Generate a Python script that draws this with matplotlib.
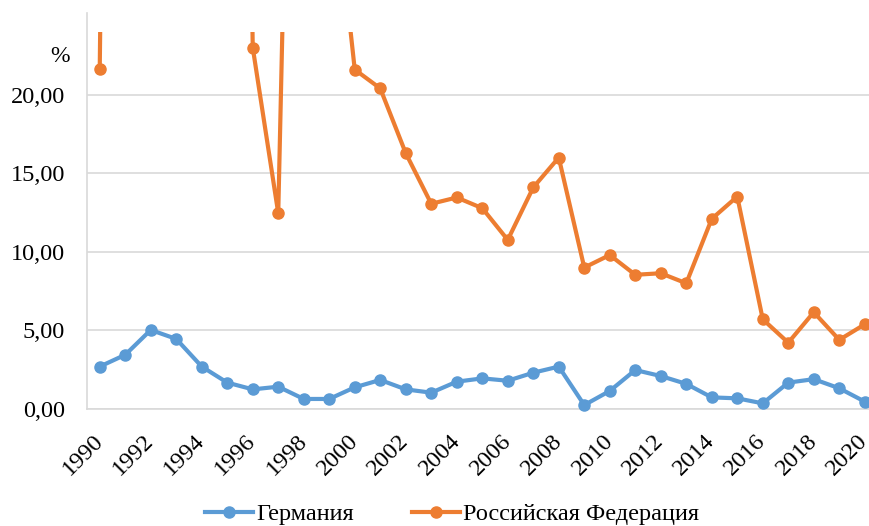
import numpy as np
import matplotlib
matplotlib.use("Agg")
import matplotlib.pyplot as plt
from matplotlib.patches import Rectangle

years = list(range(1990, 2021))
germany = [2.70, 3.45, 5.03, 4.46, 2.70, 1.68, 1.25, 1.42, 0.64, 0.64,
           1.38, 1.85, 1.25, 1.04, 1.74, 1.95, 1.80, 2.31, 2.70, 0.25,
           1.15, 2.48, 2.10, 1.60, 0.74, 0.68, 0.36, 1.68, 1.90, 1.32, 0.47]
# 1991-1995, 1998, 1999 are far above the visible range (clipped in the chart)
russia = [21.66, 160.0, 2509.0, 840.0, 215.0, 131.0, 23.00, 12.46, 84.4, 36.5,
          21.60, 20.40, 16.28, 13.06, 13.46, 12.78, 10.76, 14.10, 16.00, 9.00,
          9.80, 8.54, 8.64, 8.00, 12.10, 13.52, 5.71, 4.22, 6.16, 4.40, 5.39]
tick_years = years[::2]

plt.rcParams['font.family'] = ['Liberation Serif', 'DejaVu Serif']

fig = plt.figure(figsize=(8.69, 5.26), dpi=100)
ax = fig.add_axes([0.1001, 0.2224, 0.9097, 0.7529])

blue = '#5B9BD5'
orange = '#ED7D31'

lg, = ax.plot(years, germany, color=blue, lw=3, marker='o', ms=8,
              label='Германия', zorder=3)
lr, = ax.plot(years, russia, color=orange, lw=3, marker='o', ms=8,
              label='Российская Федерация', zorder=3)

clip = Rectangle((1989.5, -1), 31, 25.0, transform=ax.transData)
for ln in (lg, lr):
    ln.set_clip_path(clip)

ax.set_xlim(1989.5, 2020.5)
ax.set_ylim(0, 25.2)
ax.set_yticks([0, 5, 10, 15, 20])
ax.set_yticklabels(['0,00', '5,00', '10,00', '15,00', '20,00'], fontsize=17.5)
ax.set_xticks(tick_years)
ax.set_xticklabels([str(y) for y in tick_years], fontsize=17.5, rotation=45,
                   ha='right', va='center', rotation_mode='anchor')
ax.tick_params(axis='both', length=0)
ax.tick_params(axis='x', pad=21)
ax.tick_params(axis='y', pad=16)

ax.grid(axis='y', color='#d9d9d9', lw=1.2)
ax.set_axisbelow(True)
for s in ('top', 'right'):
    ax.spines[s].set_visible(False)
ax.spines['left'].set_color('#d9d9d9')
ax.spines['bottom'].set_color('#d9d9d9')
ax.spines['left'].set_linewidth(1.2)
ax.spines['bottom'].set_linewidth(1.2)

ax.text(-0.034, 0.889, '%', transform=ax.transAxes, fontsize=17,
        ha='center', va='center')

fig.legend(handles=[lg, lr], loc='center', bbox_to_anchor=(0.52, 0.022),
           ncol=2, frameon=False, fontsize=17.5, handlelength=2.0,
           handletextpad=0.1, columnspacing=2.4)

fig.savefig('out.png', dpi=100)
